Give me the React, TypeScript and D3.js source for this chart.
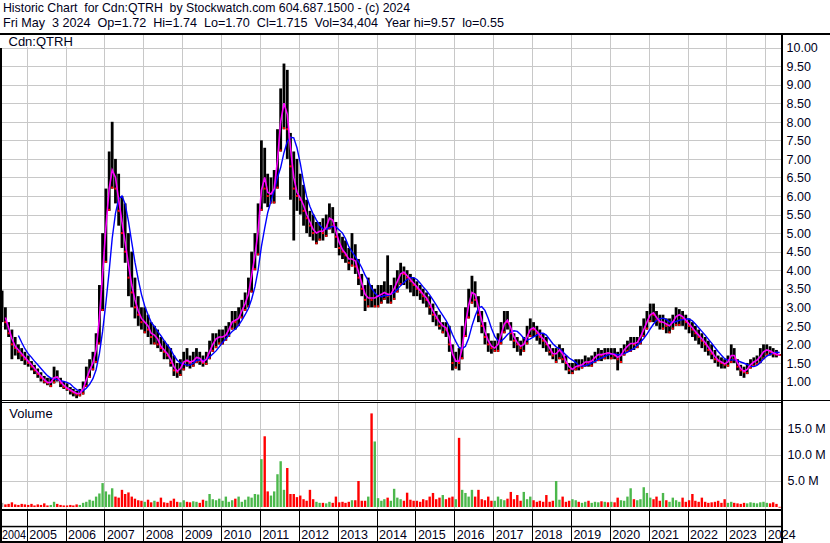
import React from 'react';
import * as d3 from 'd3';

// Monthly data, May 2004 .. May 2024
const START_YEAR = 2004;
const START_MONTH = 4; // May (0-based)

const closes = [
  2.85, 2.6, 2.3, 2.0, 1.9, 1.8, 1.7, 1.6,
  1.5, 1.4, 1.3, 1.2, 1.1, 1.0, 0.95, 1.0, 1.2, 1.05, 0.95, 0.85,
  0.8, 0.75, 0.7, 0.65, 0.7, 0.9, 1.2, 1.4, 1.6, 2.1, 3.3, 4.5,
  5.8, 6.6, 6.8, 6.2, 5.6, 5.0, 4.5, 3.8, 3.4, 3.0, 2.8, 2.6,
  2.6, 2.4, 2.2, 2.3, 2.0, 1.9, 1.8, 1.7, 1.5, 1.3, 1.25, 1.45,
  1.6, 1.55, 1.5, 1.6, 1.7, 1.55, 1.5, 1.7, 1.9, 2.1, 2.2, 2.2,
  2.2, 2.3, 2.5, 2.7, 2.6, 2.8, 3.0, 3.2, 3.5, 4.2, 4.6, 5.5,
  6.8, 6.2, 6.0, 6.1, 6.3, 7.6, 8.4, 8.6, 7.8, 6.8, 6.2, 6.0,
  5.9, 5.6, 5.4, 5.2, 5.0, 5.0, 5.1, 5.0, 5.3, 5.5, 5.2, 4.9,
  4.6, 4.5, 4.4, 4.2, 4.4, 4.1, 3.8, 3.5, 3.2, 3.3, 3.2, 3.3,
  3.3, 3.4, 3.4, 3.3, 3.4, 3.6, 3.8, 4.0, 3.9, 3.8, 3.7, 3.6,
  3.5, 3.4, 3.3, 3.2, 3.0, 2.8, 2.7, 2.5, 2.5, 2.4, 2.0, 1.5,
  1.6, 1.5, 2.3, 2.8, 3.3, 3.5, 3.2, 2.8, 2.5, 2.2, 2.0, 1.9,
  1.9, 2.1, 2.4, 2.7, 2.6, 2.3, 2.1, 2.0, 1.9, 2.1, 2.3, 2.5,
  2.4, 2.3, 2.2, 2.1, 2.0, 1.8, 1.7, 1.8, 1.9, 1.6, 1.5, 1.3,
  1.35, 1.45, 1.4, 1.5, 1.55, 1.5, 1.6, 1.7, 1.75, 1.7, 1.8, 1.75,
  1.75, 1.7, 1.6, 1.8, 1.9, 2.0, 2.05, 2.0, 2.1, 2.3, 2.5, 2.7,
  2.9, 2.8, 2.65, 2.6, 2.6, 2.5, 2.5, 2.7, 2.8, 2.8, 2.7, 2.6,
  2.5, 2.4, 2.3, 2.2, 2.1, 2.0, 1.85, 1.75, 1.6, 1.55, 1.5, 1.45,
  1.6, 1.8, 1.6, 1.4, 1.3, 1.25, 1.4, 1.5, 1.55, 1.6, 1.75, 1.85,
  1.85, 1.8, 1.75, 1.72, 1.715,
];

const highs = [
  3.45, 3.0, 2.6, 2.4, 2.2, 2.0, 1.9, 1.8,
  1.7, 1.55, 1.45, 1.35, 1.25, 1.15, 1.1, 1.1, 1.4, 1.3, 1.1, 1.0,
  0.95, 0.85, 0.8, 0.75, 0.8, 1.0, 1.4, 1.6, 1.8, 2.3, 3.6, 5.0,
  6.2, 7.2, 8.0, 7.0, 6.6, 6.0, 5.8, 5.0, 4.5, 3.8, 3.3, 3.0,
  3.0, 2.8, 2.6, 2.5, 2.4, 2.2, 2.1, 2.0, 1.9, 1.7, 1.5, 1.6,
  1.8, 1.9, 1.7, 1.8, 1.9, 1.8, 1.7, 1.8, 2.1, 2.3, 2.3, 2.4,
  2.4, 2.5, 2.6, 2.9, 2.9, 3.0, 3.2, 3.4, 3.8, 4.5, 5.0, 5.8,
  7.5, 7.3, 6.6, 6.5, 6.7, 7.8, 8.9, 9.57, 9.4, 7.7, 7.2, 7.0,
  6.6, 6.3, 5.9, 5.6, 5.5, 5.3, 5.3, 5.4, 5.5, 5.8, 5.7, 5.3,
  5.0, 4.9, 4.8, 4.6, 5.0, 4.7, 4.3, 3.9, 3.6, 3.8, 3.6, 3.5,
  3.6, 3.6, 3.7, 4.4, 3.6, 3.8, 4.0, 4.2, 4.1, 4.0, 3.9, 3.8,
  3.7, 3.6, 3.5, 3.4, 3.3, 3.1, 2.9, 2.8, 2.6, 2.6, 2.5, 2.0,
  1.8, 1.9, 2.5, 3.0, 3.5, 3.85, 3.7, 3.3, 2.9, 2.6, 2.3, 2.1,
  2.1, 2.3, 2.6, 2.9, 2.9, 2.6, 2.3, 2.2, 2.1, 2.2, 2.5, 2.7,
  2.6, 2.5, 2.4, 2.3, 2.2, 2.0, 1.9, 1.9, 2.0, 1.9, 1.7, 1.5,
  1.5, 1.6, 1.6, 1.6, 1.7, 1.65, 1.7, 1.8, 1.9, 1.85, 1.9, 1.9,
  1.9, 1.9, 1.8, 1.9, 2.0, 2.1, 2.2, 2.2, 2.2, 2.5, 2.7, 2.9,
  3.1, 3.1, 2.9, 2.8, 2.8, 2.7, 2.7, 2.8, 3.0, 2.95, 2.9, 2.8,
  2.7, 2.6, 2.5, 2.4, 2.3, 2.2, 2.1, 2.0, 1.85, 1.7, 1.65, 1.6,
  1.7, 2.0, 1.9, 1.6, 1.45, 1.4, 1.5, 1.6, 1.65, 1.7, 1.9, 2.0,
  2.0, 1.95, 1.9, 1.85, 1.74,
];

const lows = [
  2.6, 2.4, 2.2, 1.6, 1.7, 1.6, 1.55, 1.45,
  1.4, 1.3, 1.2, 1.1, 1.0, 0.95, 0.9, 0.85, 0.95, 1.0, 0.85, 0.8,
  0.75, 0.65, 0.6, 0.55, 0.6, 0.65, 0.85, 1.1, 1.3, 1.5, 2.0, 2.9,
  4.2, 5.6, 6.2, 5.8, 5.2, 4.6, 4.2, 3.3, 3.0, 2.7, 2.5, 2.4,
  2.3, 2.2, 2.0, 2.0, 1.9, 1.8, 1.6, 1.6, 1.4, 1.15, 1.1, 1.15,
  1.3, 1.4, 1.35, 1.4, 1.5, 1.45, 1.4, 1.45, 1.6, 1.8, 1.9, 2.0,
  2.0, 2.1, 2.2, 2.4, 2.4, 2.5, 2.7, 2.9, 3.0, 3.4, 4.0, 4.4,
  5.6, 5.8, 5.7, 5.8, 5.8, 6.2, 7.2, 7.8, 7.0, 5.9, 4.8, 5.6,
  5.5, 5.2, 5.0, 4.9, 4.8, 4.7, 4.8, 4.8, 4.9, 5.1, 5.0, 4.6,
  4.4, 4.3, 4.2, 4.0, 4.1, 3.9, 3.6, 3.3, 2.9, 3.0, 3.0, 3.0,
  3.0, 3.1, 3.2, 3.1, 3.1, 3.2, 3.4, 3.6, 3.6, 3.5, 3.4, 3.3,
  3.3, 3.2, 3.1, 3.0, 2.8, 2.6, 2.5, 2.4, 2.3, 2.2, 1.8, 1.3,
  1.35, 1.3, 1.6, 2.2, 2.7, 3.1, 3.0, 2.6, 2.3, 2.0, 1.8, 1.75,
  1.8, 1.8, 2.0, 2.3, 2.4, 2.1, 1.9, 1.8, 1.7, 1.8, 2.0, 2.2,
  2.2, 2.1, 2.0, 1.9, 1.8, 1.7, 1.6, 1.5, 1.6, 1.5, 1.3, 1.2,
  1.2, 1.3, 1.3, 1.35, 1.4, 1.4, 1.4, 1.5, 1.55, 1.55, 1.6, 1.6,
  1.6, 1.6, 1.3, 1.5, 1.7, 1.8, 1.8, 1.85, 1.9, 2.0, 2.2, 2.4,
  2.6, 2.6, 2.5, 2.4, 2.4, 2.3, 2.3, 2.4, 2.5, 2.5, 2.5, 2.4,
  2.3, 2.2, 2.1, 2.0, 1.9, 1.8, 1.7, 1.6, 1.5, 1.4, 1.35, 1.35,
  1.4, 1.5, 1.5, 1.3, 1.15, 1.1, 1.2, 1.35, 1.4, 1.45, 1.5, 1.6,
  1.7, 1.7, 1.65, 1.65, 1.70,
];

// volume in millions
const volumes = [
  0.8, 0.5, 0.6, 0.9, 0.5, 0.4, 0.6, 0.5,
  0.4, 0.6, 0.3, 0.5, 0.4, 0.7, 0.3, 0.4, 1.0, 0.6, 0.4, 0.3,
  0.3, 0.4, 0.3, 0.5, 0.4, 0.8, 1.0, 1.4, 1.2, 2.0, 2.6, 4.6,
  3.0, 2.4, 3.6, 2.0, 1.8, 3.3, 2.5, 2.8, 2.0, 1.6, 1.3, 1.2,
  1.0, 1.4, 0.9, 1.2, 1.0, 1.8, 0.9, 0.8, 1.2, 1.6, 1.0, 0.9,
  1.3, 1.0, 0.9, 1.1, 1.0, 0.8, 1.4, 1.2, 2.5, 1.5, 1.3, 1.6,
  1.2, 2.0, 1.0, 1.3, 1.6, 2.0, 1.0, 1.4, 2.0, 1.8, 2.5, 2.4,
  9.2, 13.6, 3.0, 2.2, 3.0, 6.3, 8.8, 3.3, 7.5, 2.5, 2.5, 1.9,
  2.2, 1.5, 1.2, 3.3, 1.5, 1.0, 0.8, 0.8, 0.7, 1.0, 0.8, 2.0,
  0.9, 1.0, 0.8, 1.0, 1.3, 1.3, 5.0, 1.2, 1.2, 2.0, 18.0, 12.6,
  1.7, 1.2, 1.5, 1.8, 1.2, 3.5, 1.8, 1.5, 1.2, 2.75, 1.4, 1.2,
  1.2, 1.0, 1.5, 1.3, 2.0, 2.7, 1.5, 1.8, 2.3, 1.5, 1.8, 2.0,
  1.5, 13.3, 3.3, 2.7, 2.0, 3.3, 2.0, 3.3, 1.5, 1.3, 2.0, 1.2,
  1.2, 2.0, 1.5, 1.3, 1.6, 2.9, 1.5, 2.3, 1.2, 2.9, 1.5, 2.0,
  1.3, 1.0, 1.2, 1.0, 2.3, 1.0, 1.2, 5.0, 1.4, 2.0, 1.0, 1.2,
  1.5, 1.3, 1.0, 0.8, 1.0, 1.2, 0.8, 1.0, 0.9, 1.1, 1.0, 0.9,
  1.0, 0.9, 1.8, 1.3, 1.2, 2.0, 3.6, 1.5, 1.3, 1.5, 3.8, 2.7,
  1.8, 1.5, 2.0, 1.2, 2.7, 1.3, 1.0, 1.8, 1.3, 1.0, 1.8, 1.0,
  1.3, 2.5, 1.2, 1.0, 1.8, 1.0, 0.8, 0.9, 1.0, 1.2, 0.8, 1.5,
  0.8, 1.0, 0.8, 0.7, 0.6, 0.8, 0.7, 0.9, 0.8, 0.7, 0.9, 1.0,
  0.8, 0.7, 0.9, 0.6, 0.034,
];

const priceTicks = [1, 1.5, 2, 2.5, 3, 3.5, 4, 4.5, 5, 5.5, 6, 6.5, 7, 7.5, 8, 8.5, 9, 9.5, 10];
const volumeTicks = [5, 10, 15];
const yearLabels = [2004, 2005, 2006, 2007, 2008, 2009, 2010, 2011, 2012, 2013, 2014, 2015, 2016, 2017, 2018, 2019, 2020, 2021, 2022, 2023, 2024];

const headerLine1 = 'Historic Chart  for Cdn:QTRH  by Stockwatch.com 604.687.1500 - (c) 2024';
const headerLine2 = 'Fri May  3 2024  Op=1.72  Hi=1.74  Lo=1.70  Cl=1.715  Vol=34,404  Year hi=9.57  lo=0.55';
const symbolLabel = 'Cdn:QTRH';

const FONT = "'Liberation Sans', Arial, Helvetica, sans-serif";
const TEXT = '#00001a';
const GRID = '#c8c8c8';

export default function App() {
  const W = 830;
  const H = 543;
  const plotL = 2;
  const plotR = 781;

  const dates = closes.map((_, i) => new Date(START_YEAR, START_MONTH + i, 15));
  const x = d3.scaleTime().domain([new Date(2005, 0, 1), new Date(2024, 0, 1)]).range([26.7, 765.3]);
  const y = d3.scaleLinear().domain([1, 10]).range([381.5, 47.6]);
  const yv = d3.scaleLinear().domain([0, 20]).range([507, 403]);

  const sma = (n: number) => closes.map((_, i) => (i < n - 1 ? null : d3.mean(closes.slice(i - n + 1, i + 1)) as number));
  const ma2 = sma(2);
  const ma6 = sma(6);
  const line = d3
    .line<number | null>()
    .defined((d) => d != null)
    .x((_, i) => x(dates[i]))
    .y((d) => y(d as number));

  const yearStarts = yearLabels.slice(1).map((yr) => x(new Date(yr, 0, 1)));

  const barW = 2.8;

  return (
    <svg
      width={W}
      height={H}
      style={{ position: 'absolute', left: 0, top: 0, background: '#fff', fontFamily: FONT }}
    >
      <defs>
        <clipPath id="priceClip">
          <rect x={plotL} y={35} width={plotR - plotL} height={365} />
        </clipPath>
        <clipPath id="volClip">
          <rect x={plotL} y={403} width={plotR - plotL} height={106} />
        </clipPath>
      </defs>
      <rect x={0} y={0} width={W} height={H} fill="#fff" />

      {/* header */}
      <text x={3} y={11.5} fontSize={13} fill={TEXT} style={{ whiteSpace: 'pre' }} textLength={407} lengthAdjust="spacingAndGlyphs">{headerLine1}</text>
      <text x={3} y={27.3} fontSize={13} fill={TEXT} style={{ whiteSpace: 'pre' }} textLength={501} lengthAdjust="spacingAndGlyphs">{headerLine2}</text>

      {/* price panel grid */}
      {priceTicks.map((t) => (
        <line key={'hg' + t} x1={plotL} x2={plotR} y1={Math.round(y(t)) + 0.5} y2={Math.round(y(t)) + 0.5} stroke={GRID} strokeWidth={1} />
      ))}
      {yearStarts.map((gx, i) => (
        <line key={'vg' + i} x1={Math.round(gx) + 0.5} x2={Math.round(gx) + 0.5} y1={35} y2={400} stroke={GRID} strokeWidth={1} />
      ))}

      {/* volume panel grid */}
      {volumeTicks.map((t) => (
        <line key={'vh' + t} x1={plotL} x2={plotR} y1={Math.round(yv(t)) + 0.5} y2={Math.round(yv(t)) + 0.5} stroke={GRID} strokeWidth={1} />
      ))}
      {yearStarts.map((gx, i) => (
        <line key={'vv' + i} x1={Math.round(gx) + 0.5} x2={Math.round(gx) + 0.5} y1={403} y2={509} stroke={GRID} strokeWidth={1} />
      ))}

      {/* labels with white boxes */}
      <rect x={3} y={35} width={70} height={12} fill="#fff" />
      <text x={8.5} y={45.7} fontSize={13} fill={TEXT}>{symbolLabel}</text>
      <rect x={3} y={404} width={54} height={16} fill="#fff" />
      <text x={9.3} y={417.7} fontSize={13} fill={TEXT}>Volume</text>

      {/* price bars */}
      <g clipPath="url(#priceClip)">
        {dates.map((d, i) => (
          <rect
            key={'pb' + i}
            x={x(d) - barW / 2}
            y={y(highs[i])}
            width={barW}
            height={Math.max(1, y(lows[i]) - y(highs[i]))}
            fill="#000"
          />
        ))}
        {dates.map((d, i) =>
          i > 0 && closes[i] < closes[i - 1] ? (
            <rect key={'rc' + i} x={x(d) - 1} y={y(closes[i]) - 1} width={2} height={2} fill="#ff0000" />
          ) : null
        )}
        {dates.map((d, i) =>
          i > 0 && closes[i] >= closes[i - 1] ? (
            <rect key={'rl' + i} x={x(d) - 1} y={y(lows[i]) - 2} width={2} height={2} fill="#ff0000" />
          ) : null
        )}
        <path d={line(ma6) || ''} fill="none" stroke="#0000ff" strokeWidth={1.4} />
        <path d={line(ma2) || ''} fill="none" stroke="#ff00ff" strokeWidth={1.6} />
      </g>

      {/* volume bars */}
      <g clipPath="url(#volClip)">
        {dates.map((d, i) => {
          const col = i === 0 ? '#a0a0a0' : closes[i] >= closes[i - 1] ? '#4cb84c' : '#ff0000';
          return (
            <rect
              key={'vb' + i}
              x={x(d) - 1.2}
              y={yv(volumes[i])}
              width={2.4}
              height={Math.max(0.8, yv(0) - yv(volumes[i]))}
              fill={col}
            />
          );
        })}
      </g>

      {/* price axis labels */}
      {priceTicks.map((t) => (
        <text key={'pl' + t} x={786.5} y={y(t) + 4.7} fontSize={12.5} fill={TEXT}>
          {t.toFixed(2)}
        </text>
      ))}
      {volumeTicks.map((t) => (
        <text key={'vl' + t} x={787.5} y={yv(t) + 4.4} fontSize={12.5} fill={TEXT}>
          {t.toFixed(1) + ' M'}
        </text>
      ))}

      {/* x axis rows */}
      {yearStarts.map((gx, i) => (
        <line key={'xt' + i} x1={Math.round(gx) + 0.5} x2={Math.round(gx) + 0.5} y1={509} y2={541} stroke="#000" strokeWidth={1} />
      ))}
      {yearLabels.map((yr, i) => {
        const gx = x(new Date(yr, 0, 1));
        if (i === 0) {
          return (
            <text key={'yl' + yr} x={2} y={539} fontSize={12.5} fill={TEXT} textLength={24} lengthAdjust="spacingAndGlyphs">
              {yr}
            </text>
          );
        }
        return (
          <text key={'yl' + yr} x={gx + 2.5} y={539} fontSize={12.5} fill={TEXT}>
            {yr}
          </text>
        );
      })}

      {/* frame */}
      <rect x={0} y={33} width={W} height={2} fill="#000" />
      <rect x={0} y={48} width={2} height={H - 48} fill="#000" />
      <rect x={plotR} y={33} width={2} height={H - 33} fill="#000" />
      <rect x={0} y={400} width={W} height={1} fill="#000" />
      <rect x={0} y={402} width={plotR} height={1} fill="#000" />
      <rect x={0} y={509} width={plotR} height={2} fill="#000" />
      <rect x={0} y={525.8} width={plotR} height={1.5} fill="#000" />
      <rect x={0} y={541} width={plotR} height={2} fill="#000" />
    </svg>
  );
}
